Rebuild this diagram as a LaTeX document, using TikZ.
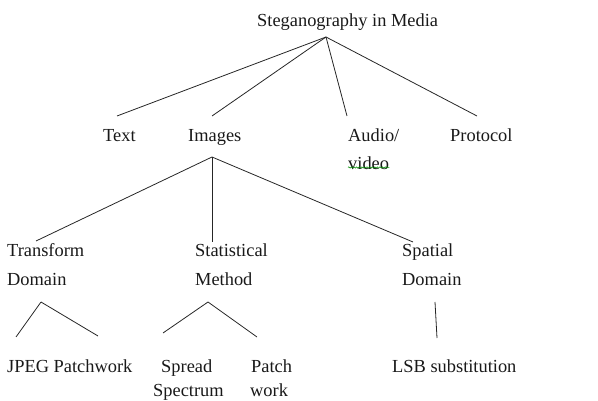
\documentclass[tikz,border=0pt]{standalone}
\usepackage{fontspec}
\setmainfont{Liberation Serif}
\usetikzlibrary{decorations.pathmorphing}
\begin{document}
\begin{tikzpicture}[x=1pt,y=-1pt,
  lbl/.style={anchor=base west,inner sep=0pt,font=\fontsize{18.4}{21}\selectfont,text=black!90},
  edge/.style={draw=black!85,line width=0.8pt},
  spell/.style={draw=green!55!black,line width=0.5pt,decorate,decoration={snake,amplitude=0.7pt,segment length=2.6pt}}]
\useasboundingbox (0,0) rectangle (598,401);
% texts
\node[lbl] (root) at (257,26.5) {Steganography in Media};
\node[lbl] (text) at (103,142) {Text};
\node[lbl] (images) at (188,142) {Images};
\node[lbl] (audio) at (348,142) {Audio/};
\node[lbl] (video) at (348,170) {video};
\node[lbl] (protocol) at (450,142) {Protocol};
\node[lbl] (transform) at (7,257) {Transform};
\node[lbl] (tdomain) at (7,286) {Domain};
\node[lbl] (statistical) at (195,257) {Statistical};
\node[lbl] (method) at (195,286) {Method};
\node[lbl] (spatial) at (402,257) {Spatial};
\node[lbl] (sdomain) at (402,286) {Domain};
\node[lbl] (jpeg) at (7,373) {JPEG Patchwork};
\node[lbl] (spread) at (161,373) {Spread};
\node[lbl] (spectrum) at (153,396) {Spectrum};
\node[lbl] (patch) at (251,373) {Patch};
\node[lbl] (work) at (250,396) {work};
\node[lbl] (lsb) at (392,373) {LSB substitution};
% junction points
\coordinate (rootj) at (326,37);
\coordinate (textj) at (117,116);
\coordinate (imgin) at (212,116);
\coordinate (audj) at (347,116);
\coordinate (protj) at (477,116);
\coordinate (imgj) at (212,157);
\coordinate (trj) at (36,241);
\coordinate (stj) at (212,242);
\coordinate (spj) at (413,242);
\coordinate (tdj) at (41,302);
\coordinate (jpl) at (16,337);
\coordinate (jpr) at (98,336);
\coordinate (mj) at (208,302);
\coordinate (sprj) at (163,333);
\coordinate (patj) at (257,337);
\coordinate (sdj) at (435,302);
\coordinate (lsbj) at (437,338);
% connectors
\draw[edge] (rootj) -- (textj);
\draw[edge] (rootj) -- (imgin);
\draw[edge] (rootj) -- (audj);
\draw[edge] (rootj) -- (protj);
\draw[edge] (imgj) -- (trj);
\draw[edge] (imgj) -- (stj);
\draw[edge] (imgj) -- (spj);
\draw[edge] (tdj) -- (jpl);
\draw[edge] (tdj) -- (jpr);
\draw[edge] (mj) -- (sprj);
\draw[edge] (mj) -- (patj);
\draw[edge] (sdj) -- (lsbj);
% spell-check underline
\draw[spell] ([yshift=2.5pt]video.base west) -- ([yshift=2.5pt]video.base east);
\end{tikzpicture}
\end{document}
